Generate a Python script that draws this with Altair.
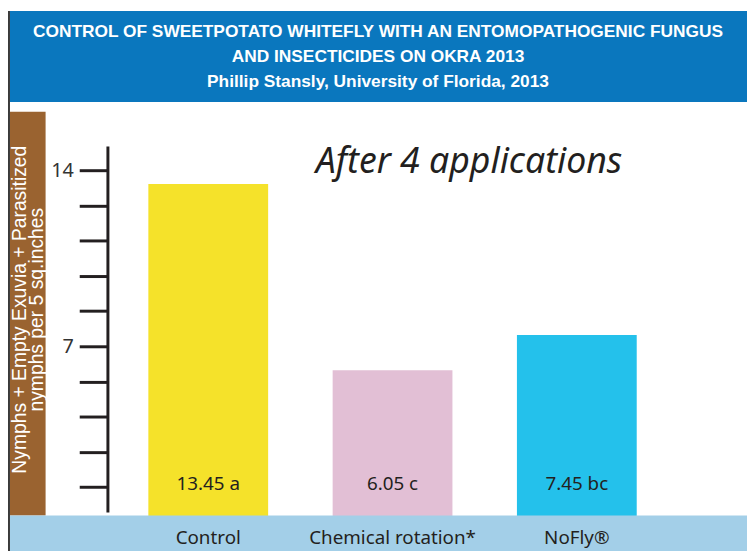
import altair as alt
import pandas as pd

categories = ["Control", "Chemical rotation*", "NoFly®"]
values = [13.45, 6.05, 7.45]
letters = ["a", "c", "bc"]
bar_colors = ["#F5E22A", "#E2BFD5", "#24C1EB"]
y_ticks = [1.4, 2.8, 4.2, 5.6, 7, 8.4, 9.8, 11.2, 12.6, 14]
header_lines = [
    "CONTROL OF SWEETPOTATO  WHITEFLY WITH AN ENTOMOPATHOGENIC FUNGUS",
    "AND INSECTICIDES ON OKRA  2013",
    "Phillip Stansly, University of Florida, 2013",
]
y_title = ["Nymphs + Empty Exuvia + Parasitized", "nymphs per 5 sq.inches"]
subtitle = "After 4 applications"

df = pd.DataFrame({
    "cat": categories,
    "value": values,
    "label": [f"{v:.2f} {l}" for v, l in zip(values, letters)],
})

W, H = 747, 546
FONT = "Noto Sans"
DARK = "#231F20"

one = alt.Data(values=[{}])

xscale = alt.Scale(domain=categories, paddingInner=0.35, paddingOuter=0.68, align=0.56)
yscale = alt.Scale(domain=[-1.14, 20.33], nice=False, zero=False)
X = alt.X("cat:N", scale=xscale, axis=None, sort=categories)

header = alt.Chart(one).mark_rect(color="#0A77BE").encode(
    x=alt.value(2), x2=alt.value(W), y=alt.value(0), y2=alt.value(92))
header_text = alt.Chart(one).mark_text(
    text=header_lines, font="Liberation Sans", fontWeight="bold", fontSize=17.5,
    color="white", align="center", baseline="middle", lineHeight=25.5
).encode(x=alt.value(374), y=alt.value(21))

brown = alt.Chart(one).mark_rect(color="#9A6330").encode(
    x=alt.value(2), x2=alt.value(38), y=alt.value(102), y2=alt.value(510))
ytitle = alt.Chart(one).mark_text(
    text=y_title, font="Liberation Sans", fontSize=19.5, color="white", angle=270,
    align="center", baseline="middle", lineHeight=16.5
).encode(x=alt.value(12.5), y=alt.value(302))

bars = alt.Chart(df).mark_bar().encode(
    x=X,
    y=alt.Y("value:Q", scale=yscale, axis=alt.Axis(
        values=y_ticks, offset=-100, domain=False, grid=False, title=None,
        tickSize=28, tickWidth=3, tickColor=DARK,
        labelExpr="(datum.value == 7 || datum.value == 14) ? datum.label : ''",
        labelFont=FONT, labelFontSize=20, labelColor="#333333", labelPadding=6)),
    y2=alt.datum(0),
    color=alt.Color("cat:N", scale=alt.Scale(domain=categories, range=bar_colors), legend=None),
)

band = alt.Chart(one).mark_rect(color="#A3CFE8").encode(
    x=alt.value(2), x2=alt.value(W), y=alt.value(510), y2=alt.value(H))

bar_labels = alt.Chart(df).mark_text(font=FONT, fontSize=19, color=DARK).encode(
    x=X, y=alt.value(478), text="label:N")
cat_labels = alt.Chart(df).mark_text(font=FONT, fontSize=19, color=DARK).encode(
    x=X, y=alt.value(533), text="cat:N")

sub = alt.Chart(one).mark_text(
    text=subtitle, font=FONT, fontStyle="italic", fontSize=36, color=DARK,
    align="center", baseline="middle"
).encode(x=alt.value(466), y=alt.value(153))

axis_line = alt.Chart(one).mark_rule(color=DARK, strokeWidth=3).encode(
    x=alt.value(101), y=alt.value(137), y2=alt.value(507))
left_line = alt.Chart(one).mark_rule(color="#3a3a3a", strokeWidth=2).encode(
    x=alt.value(1), y=alt.value(0), y2=alt.value(H))

chart = alt.layer(
    header, header_text, brown, ytitle, bars, band, bar_labels, cat_labels, sub,
    axis_line, left_line
).properties(
    width=W, height=H, autosize=alt.AutoSizeParams(type="none"), padding=0,
    background="white"
).configure_view(stroke=None)

chart.save("out.html", embed_options={"renderer": "svg", "actions": False})
